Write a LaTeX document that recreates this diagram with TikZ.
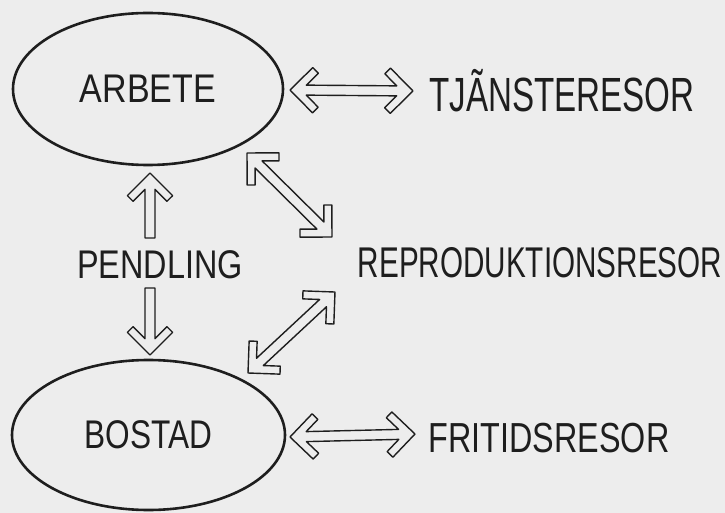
\documentclass[tikz,border=0pt]{standalone}
\usepackage{graphicx}
\usepackage{fontspec}
\setmainfont{Liberation Sans}
\usetikzlibrary{shapes.geometric,calc}
\definecolor{bgcol}{RGB}{237,237,237}
\definecolor{ink}{RGB}{30,30,30}
\newcommand\hollowarrow[3]{% #1 from, #2 to (tip), #3 = 1 double-headed, 0 single-headed
  \path let \p1=($(#2)-(#1)$) in \pgfextra{%
    \pgfmathsetmacro\HAang{atan2(\y1,\x1)}%
    \pgfmathsetmacro\HAlen{veclen(\x1,\y1)}%
    \global\let\HAangG\HAang\global\let\HAlenG\HAlen};
  \begin{scope}[shift={(#1)},rotate=\HAangG]
    \ifnum#3=1
      \draw[harrow] (0,0) -- (22.63,22.63) -- (28.28,16.97) -- (16.31,5)
        -- ({\HAlenG-16.31},5) -- ({\HAlenG-28.28},16.97) -- ({\HAlenG-22.63},22.63)
        -- ({\HAlenG},0) -- ({\HAlenG-22.63},-22.63) -- ({\HAlenG-28.28},-16.97)
        -- ({\HAlenG-16.31},-5) -- (16.31,-5) -- (28.28,-16.97) -- (22.63,-22.63) -- cycle;
    \else
      \draw[harrow] (0,5)
        -- ({\HAlenG-16.31},5) -- ({\HAlenG-28.28},16.97) -- ({\HAlenG-22.63},22.63)
        -- ({\HAlenG},0) -- ({\HAlenG-22.63},-22.63) -- ({\HAlenG-28.28},-16.97)
        -- ({\HAlenG-16.31},-5) -- (0,-5) -- cycle;
    \fi
  \end{scope}}
\begin{document}
\begin{tikzpicture}[x=1pt,y=-1pt,
  harrow/.style={draw=ink,line width=1.4pt,line join=round},
  place/.style={ellipse,draw=ink,line width=2.6pt,inner sep=0pt,text=ink,font=\fontsize{40}{48}\selectfont},
  lbl/.style={anchor=base,inner sep=0pt,text=ink}]
\fill[bgcol] (0,0) rectangle (725,513);
\useasboundingbox (0,0) rectangle (725,513);

\node[place,minimum width=270pt,minimum height=152pt] (arbete) at (148,89) {\scalebox{0.85}[1]{ARBETE}};
\node[place,minimum width=273pt,minimum height=150pt] (bostad) at (148.5,435) {\scalebox{0.79}[1]{BOSTAD}};

\node[lbl,font=\fontsize{48}{56}\selectfont] (tjanste) at (562,112) {\scalebox{0.69}[1]{TJÃNSTERESOR}};
\node[lbl,font=\fontsize{40}{48}\selectfont] (pendling) at (160,278) {\scalebox{0.81}[1]{PENDLING}};
\node[lbl,font=\fontsize{43}{50}\selectfont] (repro) at (540,277) {\scalebox{0.69}[1]{REPRODUKTIONSRESOR}};
\node[lbl,font=\fontsize{42}{50}\selectfont] (fritid) at (549,452) {\scalebox{0.77}[1]{FRITIDSRESOR}};

% connector end points
\coordinate (a1) at (290,90);   \coordinate (t1) at (413,91);
\coordinate (p1) at (150,238);  \coordinate (p2) at (150,173);
\coordinate (p3) at (150,288);  \coordinate (p4) at (150,355);
\coordinate (d1) at (247,153);  \coordinate (d2) at (332,237);
\coordinate (d3) at (248,373);  \coordinate (d4) at (335,292);
\coordinate (b1) at (290,437);  \coordinate (f1) at (415,434);

\hollowarrow{a1}{t1}{1}
\hollowarrow{p1}{p2}{0}
\hollowarrow{p3}{p4}{0}
\hollowarrow{d1}{d2}{1}
\hollowarrow{d3}{d4}{1}
\hollowarrow{b1}{f1}{1}
\end{tikzpicture}
\end{document}
